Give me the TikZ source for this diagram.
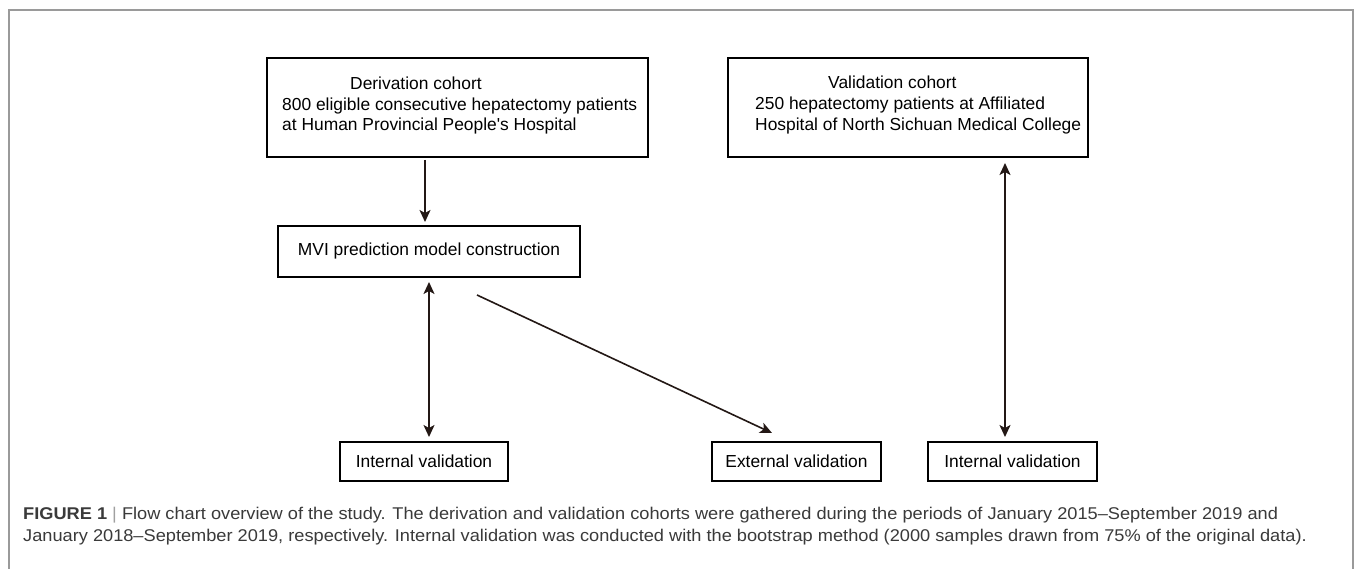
\documentclass[tikz,border=0pt]{standalone}
\usepackage{graphicx}
\usepackage{fontspec}
\setmainfont{Liberation Sans}
\usetikzlibrary{arrows.meta,calc}
\definecolor{arrowcol}{HTML}{231815}
\definecolor{captext}{HTML}{3A3A3A}
\definecolor{framecol}{HTML}{9A9A9A}
\definecolor{barcol}{HTML}{A0A0A0}
\begin{document}
\begin{tikzpicture}[x=1pt,y=-1pt,
  boxnode/.style={draw=black,line width=2pt,inner sep=0pt,outer sep=0pt},
  boxtext/.style={inner sep=0pt,font=\fontsize{17.4}{21}\selectfont,text=black},
  tip/.tip={Stealth[length=12pt,width=11pt,inset=3pt]},
  arr/.style={draw=arrowcol,line width=1.6pt,-tip},
  dblarr/.style={draw=arrowcol,line width=1.6pt,tip-tip},
  captxt/.style={inner sep=0pt,font=\fontsize{17}{22}\selectfont,text=captext}]
\useasboundingbox (0,0) rectangle (1355,569);
\fill[white] (0,0) rectangle (1355,569);
% outer frame
\draw[framecol,line width=1.3pt] (9,569) -- (9,10) -- (1353,10) -- (1353,569);

% boxes
\node[boxnode,minimum width=381,minimum height=99] (der) at (457.5,107.5) {};
\node[boxnode,minimum width=360,minimum height=99] (val) at (908,107.5) {};
\node[boxnode,minimum width=302,minimum height=51] (mvi) at (429,251.5) {};
\node[boxnode,minimum width=168,minimum height=39] (intL) at (424,461.5) {};
\node[boxnode,minimum width=169,minimum height=39] (ext) at (796.5,461.5) {};
\node[boxnode,minimum width=169,minimum height=39] (intR) at (1012.5,461.5) {};

% texts
\node[boxtext,anchor=base west] (dert1) at (350,90) {Derivation cohort};
\node[boxtext,anchor=base west] (dert2) at (282,111) {800 eligible consecutive hepatectomy patients};
\node[boxtext,anchor=base west] (dert3) at (282,131) {at Human Provincial People\textquotesingle s Hospital};
\node[boxtext,anchor=base west] (valt1) at (828,89) {Validation cohort};
\node[boxtext,anchor=base west] (valt2) at (755,110) {250 hepatectomy patients at Affiliated};
\node[boxtext,anchor=base west] (valt3) at (755,131) {Hospital of North Sichuan Medical College};
\node[boxtext] (mvit) at (mvi.center) {MVI prediction model construction};
\node[boxtext] (intLt) at (intL.center) {Internal validation};
\node[boxtext] (extt) at (ext.center) {External validation};
\node[boxtext] (intRt) at (intR.center) {Internal validation};

% connectors
\coordinate (tipA) at ($(mvi.north)+(-4,-4)$);
\draw[arr,shorten <=3pt] (der.south -| tipA) -- (tipA);
\coordinate (dblTop) at ($(mvi.south)+(0,5)$);
\coordinate (dblBot) at ($(intL.north)+(5,-5)$);
\draw[dblarr] (dblBot |- dblTop) -- (dblBot);
\coordinate (diagS) at (477,295);
\coordinate (diagE) at (772,433);
\draw[arr] (diagS) -- (diagE);
\coordinate (vTop) at (1005,163);
\coordinate (vBot) at ($(intR.north)+(-7.5,-5)$);
\draw[dblarr] (vBot |- vTop) -- (vBot);

% caption
\node[captxt,anchor=base west] (cap1) at (23,519.5) {\scalebox{1.071}[1]{\textbf{FIGURE 1} {\color{barcol}|} Flow chart overview of the study. The derivation and validation cohorts were gathered during the periods of January 2015–September 2019 and}};
\node[captxt,anchor=base west] (cap2) at (23,541.5) {\scalebox{1.071}[1]{January 2018–September 2019, respectively. Internal validation was conducted with the bootstrap method (2000 samples drawn from 75\% of the original data).}};
\end{tikzpicture}
\end{document}
